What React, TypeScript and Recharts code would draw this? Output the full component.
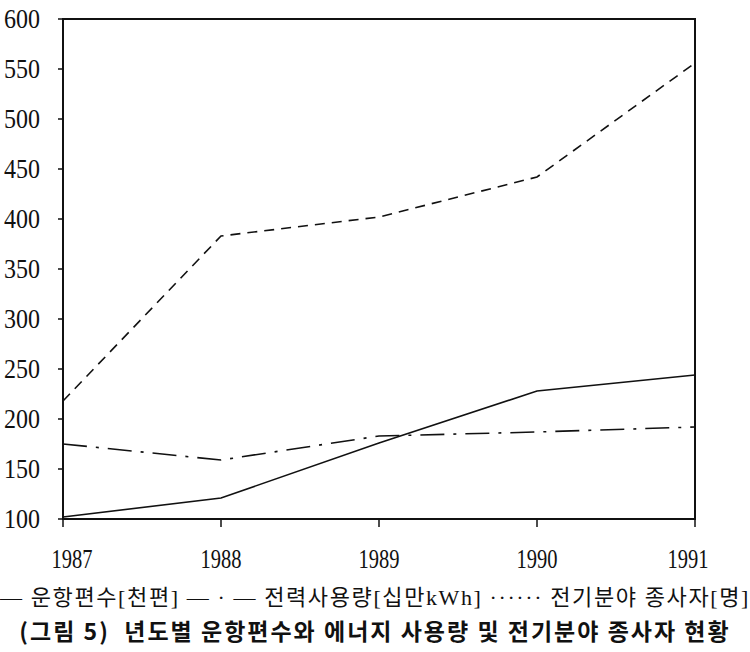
import { Line, LineChart, ReferenceArea, XAxis, YAxis } from 'recharts'

const years = ['1987', '1988', '1989', '1990', '1991']
const flights = [102, 121, 176, 228, 244]
const power = [175, 159, 183, 187, 192]
const workers = [218, 383, 402, 442, 556]
const yTicks = [100, 150, 200, 250, 300, 350, 400, 450, 500, 550, 600]

const legendText = '— 운항편수[천편] — · — 전력사용량[십만kWh] ······ 전기분야 종사자[명]'
const titleText = '(그림 5)  년도별 운항편수와 에너지 사용량 및 전기분야 종사자 현황'

const data = years.map((y, i) => ({
  year: y,
  flights: flights[i],
  power: power[i],
  workers: workers[i],
}))

const serif = '"Liberation Serif", "Noto Sans CJK KR", serif'

// condensed serif digits like the scanned figure
function YearTick(props: any) {
  const { x, y, payload, index } = props
  let dx = 0
  if (index === 0) dx = 9
  if (index === years.length - 1) dx = -7
  return (
    <text
      x={x + dx}
      y={y + 39}
      textAnchor="middle"
      fontFamily={serif}
      fontSize={28}
      textLength={41}
      lengthAdjust="spacingAndGlyphs"
      fill="#111"
    >
      {payload.value}
    </text>
  )
}

function ValueTick(props: any) {
  const { x, y, payload } = props
  return (
    <text
      x={x - 16}
      y={y + 9}
      textAnchor="end"
      fontFamily={serif}
      fontSize={27}
      textLength={36}
      lengthAdjust="spacingAndGlyphs"
      fill="#111"
    >
      {payload.value}
    </text>
  )
}

export default function App() {
  return (
    <div style={{ position: 'absolute', left: 0, top: 0, width: 750, height: 652, background: '#fff' }}>
      <LineChart width={750} height={652} data={data} margin={{ top: 19, right: 55, left: 0, bottom: 0 }}>
        <XAxis
          dataKey="year"
          axisLine={{ stroke: '#111', strokeWidth: 2 }}
          tickLine={{ stroke: '#111', strokeWidth: 1.5 }}
          tickSize={8}
          tick={<YearTick />}
          height={133}
          interval={0}
        />
        <YAxis
          domain={[100, 600]}
          ticks={yTicks}
          width={63}
          axisLine={{ stroke: '#111', strokeWidth: 2 }}
          tickLine={{ stroke: '#111', strokeWidth: 1.5 }}
          tickSize={5}
          tick={<ValueTick />}
          interval={0}
        />
        <ReferenceArea x1="1987" x2="1991" y1={100} y2={600} fill="none" stroke="#111" strokeWidth={2} />
        <Line dataKey="flights" stroke="#111" strokeWidth={1.6} dot={false} isAnimationActive={false} />
        <Line
          dataKey="power"
          stroke="#111"
          strokeWidth={1.6}
          strokeDasharray="24 9 3 9"
          dot={false}
          isAnimationActive={false}
        />
        <Line
          dataKey="workers"
          stroke="#111"
          strokeWidth={1.6}
          strokeDasharray="10 7"
          dot={false}
          isAnimationActive={false}
        />
      </LineChart>
      <div style={{ position: 'absolute', left: 0, top: 582, width: 750, textAlign: 'center', color: '#111' }}>
        <div
          style={{
            fontFamily: serif,
            fontSize: 22,
            letterSpacing: 1.6,
            whiteSpace: 'nowrap',
            lineHeight: '32px',
          }}
        >
          {legendText}
        </div>
        <div
          style={{
            fontFamily: '"Noto Sans CJK KR", sans-serif',
            fontWeight: 700,
            fontSize: 23,
            letterSpacing: 2,
            whiteSpace: 'pre',
            lineHeight: '32px',
          }}
        >
          {titleText}
        </div>
      </div>
    </div>
  )
}
